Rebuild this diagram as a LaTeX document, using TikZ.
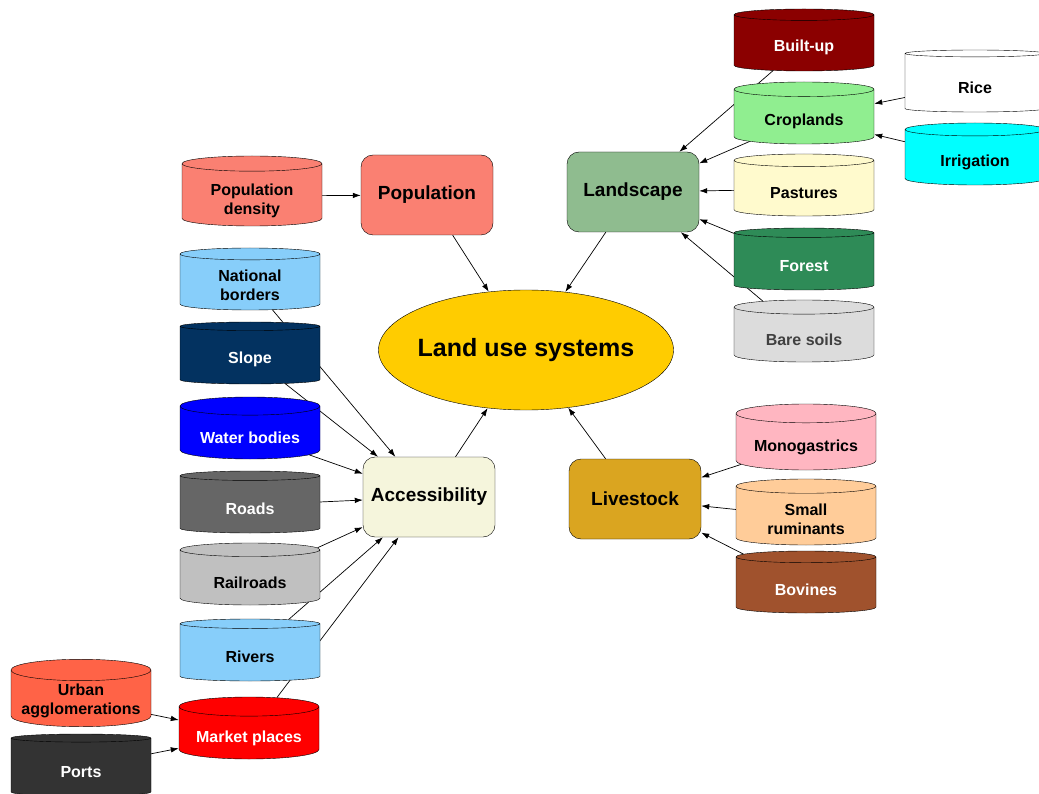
\documentclass[tikz,border=0pt]{standalone}
\usepackage{fontspec}
\setmainfont{Liberation Sans}
\usepackage{tikz}
\usepackage{xcolor}
\usetikzlibrary{positioning, arrows.meta, shapes.geometric, backgrounds}
\definecolor{lusYellow}{HTML}{FFCC00}
\definecolor{popRed}{HTML}{FA8072}
\definecolor{landGreen}{HTML}{8FBC8F}
\definecolor{accBeige}{HTML}{F5F5DC}
\definecolor{liveGold}{HTML}{DAA520}
\definecolor{builtRed}{HTML}{8B0000}
\definecolor{cropGreen}{HTML}{90EE90}
\definecolor{pastYellow}{HTML}{FFFACD}
\definecolor{forestGreen}{HTML}{2E8B57}
\definecolor{bareGray}{HTML}{DCDCDC}
\definecolor{bareText}{HTML}{404040}
\definecolor{irrigCyan}{HTML}{00FFFF}
\definecolor{skyBlue}{HTML}{87CEFA}
\definecolor{slopeNavy}{HTML}{033260}
\definecolor{waterBlue}{HTML}{0000FF}
\definecolor{roadGray}{HTML}{666666}
\definecolor{railGray}{HTML}{C0C0C0}
\definecolor{marketRed}{HTML}{FF0000}
\definecolor{urbanRed}{HTML}{FF6347}
\definecolor{portGray}{HTML}{333333}
\definecolor{monoPink}{HTML}{FFB6C1}
\definecolor{smallPeach}{HTML}{FFCC99}
\definecolor{bovBrown}{HTML}{A0522D}

\begin{document}
\begin{tikzpicture}[x=1pt, y=-1pt,
  hub/.style={draw, ellipse, minimum width=295pt, minimum height=120pt,
              inner sep=0pt, fill=lusYellow,
              font=\fontsize{25}{30}\selectfont\bfseries},
  theme/.style={draw, rounded corners=12pt, minimum width=132pt,
                minimum height=80pt, align=center,
                font=\fontsize{19}{23}\selectfont\bfseries},
  layer/.style={draw, cylinder, shape border rotate=90, aspect=0.17,
                minimum width=140pt, minimum height=62pt, align=center,
                inner ysep=1pt, text height=19.5pt, anchor=shape center,
                font=\fontsize{16}{19}\selectfont\bfseries},
  twoline/.style={text height=35.5pt},
  link/.style={-{Latex[length=8pt, width=5.5pt]}, line width=0.7pt},
]
  \useasboundingbox (0,0) rectangle (1039,794);

  \node[hub] (lus) at (526,350) {\makebox[0pt]{Land use systems}};
  \node[theme, fill=popRed]    (pop)  at (427,195) {Population};
  \node[theme, fill=landGreen] (land) at (633,192) {Landscape};
  \node[theme, fill=accBeige]  (acc)  at (429,497) {Accessibility};
  \node[theme, fill=liveGold]  (live) at (635,499) {Livestock};

  \node[layer, twoline, fill=popRed, minimum height=70pt, text height=40.5pt] (popd) at (252,191) {Population\\density};

  \node[layer, fill=builtRed, text=white]  (built)  at (804,40)  {Built-up};
  \node[layer, fill=cropGreen]             (crop)   at (804,113) {Croplands};
  \node[layer, fill=pastYellow]            (past)   at (804,185) {Pastures};
  \node[layer, fill=forestGreen, text=white] (forest) at (804,259) {Forest};
  \node[layer, fill=bareGray, text=bareText] (bare) at (804,331) {Bare soils};
  \node[layer, fill=white]                 (rice)   at (975,81)  {Rice};
  \node[layer, fill=irrigCyan]             (irrig)  at (975,154) {Irrigation};

  \node[layer, twoline, fill=skyBlue]      (natb)   at (250,279) {National\\borders};
  \node[layer, fill=slopeNavy, text=white] (slope)  at (250,353) {Slope};
  \node[layer, fill=waterBlue, text=white] (water)  at (250,428) {Water bodies};
  \node[layer, fill=roadGray, text=white]  (roads)  at (250,502) {Roads};
  \node[layer, fill=railGray]              (rail)   at (250,574) {Railroads};
  \node[layer, fill=skyBlue]               (rivers) at (250,650) {Rivers};
  \node[layer, fill=marketRed, text=white] (market) at (249,728) {Market places};
  \node[layer, twoline, fill=urbanRed, text height=33pt] (urban) at (81,693) {Urban\\agglomerations};
  \node[layer, fill=portGray, text=white]  (ports)  at (81,765)  {Ports};

  \node[layer, fill=monoPink, minimum height=66pt]            (mono)  at (806,437) {Monogastrics};
  \node[layer, twoline, fill=smallPeach, minimum height=66pt] (small) at (806,512) {Small\\ruminants};
  \node[layer, fill=bovBrown, text=white]                     (bov)   at (806,582) {Bovines};

  \begin{scope}[on background layer]
    \draw[link] (popd) -- (pop);
    \draw[link] (pop) -- (lus);
    \draw[link] (land) -- (lus);
    \draw[link] (acc) -- (lus);
    \draw[link] (live) -- (lus);

    \draw[link] (built) -- (land);
    \draw[link] (crop) -- (land);
    \draw[link] (past) -- (land);
    \draw[link] (forest) -- (land);
    \draw[link] (bare) -- (land);
    \draw[link] (rice) -- (crop);
    \draw[link] (irrig) -- (crop);

    \draw[link] (natb) -- (acc);
    \draw[link] (slope) -- (acc);
    \draw[link] (water) -- (acc);
    \draw[link] (roads) -- (acc);
    \draw[link] (rail) -- (acc);
    \draw[link] (rivers) -- (acc);
    \draw[link] (market) -- (acc);
    \draw[link] (urban) -- (market);
    \draw[link] (ports) -- (market);

    \draw[link] (mono) -- (live);
    \draw[link] (small) -- (live);
    \draw[link] (bov) -- (live);
  \end{scope}
\end{tikzpicture}
\end{document}
